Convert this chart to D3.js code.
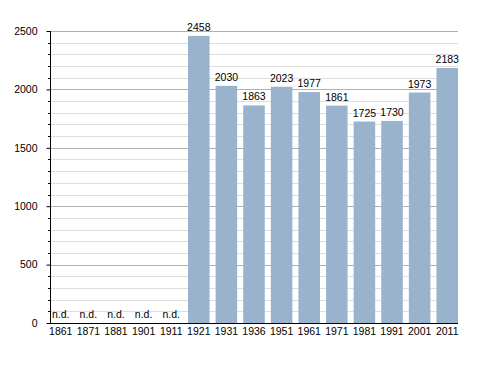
<!DOCTYPE html>
<html>
<head>
<meta charset="utf-8">
<script src="https://cdn.jsdelivr.net/npm/d3@7"></script>
<style>
  body { margin: 0; background: #fff; }
  text { font-family: "Liberation Sans", Arial, sans-serif; }
</style>
</head>
<body>
<div id="viz"></div>
<script>
"use strict";

var years = ["1861", "1871", "1881", "1901", "1911", "1921", "1931", "1936", "1951", "1961", "1971", "1981", "1991", "2001", "2011"];
var population = [null, null, null, null, null, 2458, 2030, 1863, 2023, 1977, 1861, 1725, 1730, 1973, 2183];
var majorTicks = [0, 500, 1000, 1500, 2000, 2500];

var chartWidth = 488,
	chartHeight = 373,
	plotLeft = 50,
	plotRight = 458,
	plotTop = 31,
	plotBottom = 323,
	fontSize = "10.5px";

var svg = d3.select("#viz")
	.append("svg")
	.attr("width", chartWidth)
	.attr("height", chartHeight)

var x = d3.scaleBand()
	.domain(years)
	.range([plotLeft, plotRight])
	.paddingInner(0.22)
	.paddingOuter(0)

var y = d3.scaleLinear()
	.domain([0, 2500])
	.range([plotBottom, plotTop])

// minor grid every 100
var minor = d3.range(100, 2500, 100).filter(function(v){ return v % 500 != 0 })

var py = function(d) { return Math.round(y(d)) + 0.5 }

svg.append("g").selectAll("line")
	.data(minor)
	.enter().append("line")
	.attr("x1", plotLeft).attr("x2", plotRight)
	.attr("y1", py)
	.attr("y2", py)
	.attr("stroke", "#dedede")

svg.append("g").selectAll("line")
	.data(majorTicks.slice(1))
	.enter().append("line")
	.attr("x1", plotLeft).attr("x2", plotRight)
	.attr("y1", py)
	.attr("y2", py)
	.attr("stroke", "#b0b0b0")

// bars
svg.append("g").selectAll("rect")
	.data(years.filter(function(d, i){ return population[i] != null }))
	.enter().append("rect")
	.attr("x", function(d){ return x(d) })
	.attr("width", x.bandwidth())
	.attr("y", function(d){ return y(population[years.indexOf(d)]) })
	.attr("height", function(d){ return plotBottom - y(population[years.indexOf(d)]) })
	.attr("fill", "#99b3cc")

// value labels
svg.append("g").selectAll("text")
	.data(years)
	.enter().append("text")
	.attr("x", function(d, i){ return population[i] == null ? x(d) + 2 : x(d) + x.bandwidth() / 2 })
	.attr("y", function(d, i){ return population[i] == null ? plotBottom - 5 : y(population[i]) - 5 })
	.attr("text-anchor", function(d, i){ return population[i] == null ? "start" : "middle" })
	.attr("font-size", fontSize)
	.attr("fill", "#000")
	.text(function(d, i){ return population[i] == null ? "n.d." : population[i] })

// y axis
var yAxis = d3.axisLeft(y)
	.tickValues(majorTicks)
	.tickSize(4)
	.tickPadding(9)
	.tickFormat(d3.format("d"))

var yg = svg.append("g")
	.attr("transform", "translate(" + (plotLeft + 0.5) + ",0)")
	.call(yAxis)
yg.select(".domain").attr("d", "M0," + plotTop + "V" + (plotBottom + 0.5))
yg.selectAll("text").attr("font-size", fontSize).attr("font-family", "Liberation Sans, Arial, sans-serif")

svg.append("g").selectAll("line")
	.data(minor)
	.enter().append("line")
	.attr("x1", plotLeft - 2).attr("x2", plotLeft)
	.attr("y1", py)
	.attr("y2", py)
	.attr("stroke", "#000")

// x axis
var xg = svg.append("g")
	.attr("transform", "translate(0," + (plotBottom + 0.5) + ")")
	.call(d3.axisBottom(x).tickSize(0).tickPadding(4))
xg.select(".domain").attr("d", "M" + plotLeft + ",0H" + plotRight)
xg.selectAll("text").attr("font-size", fontSize).attr("font-family", "Liberation Sans, Arial, sans-serif")
</script>
</body>
</html>
